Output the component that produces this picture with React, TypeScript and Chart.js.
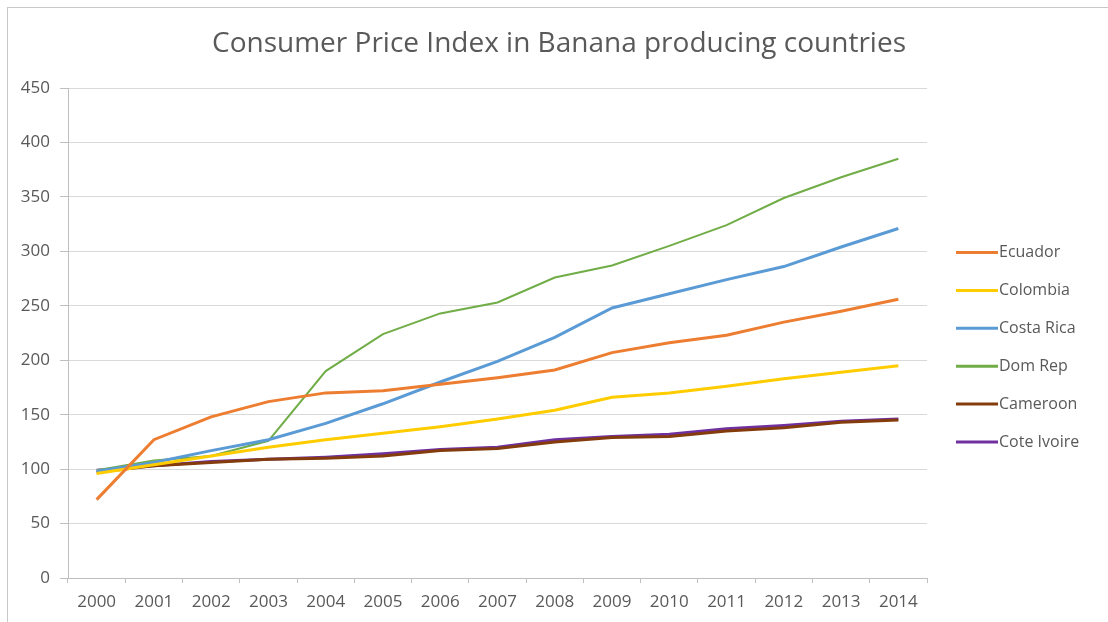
import React, { useEffect, useRef } from "react";
import { Chart, registerables } from "chart.js";

Chart.register(...registerables);

const years = ["2000", "2001", "2002", "2003", "2004", "2005", "2006", "2007", "2008", "2009", "2010", "2011", "2012", "2013", "2014"];
const seriesNames = ["Ecuador", "Colombia", "Costa Rica", "Dom Rep", "Cameroon", "Cote Ivoire"];
const ecuador = [72, 127, 148, 162, 170, 172, 178, 184, 191, 207, 216, 223, 235, 245, 256];
const colombia = [96, 104, 112, 120, 127, 133, 139, 146, 154, 166, 170, 176, 183, 189, 195];
const costaRica = [98, 106, 117, 127, 142, 160, 180, 199, 221, 248, 261, 274, 286, 304, 321];
const domRep = [99, 108, 112, 126, 190, 224, 243, 253, 276, 287, 305, 324, 349, 368, 385];
const cameroon = [97, 103, 106, 109, 110, 112, 117, 119, 125, 129, 130, 135, 138, 143, 145];
const coteIvoire = [99, 103, 107, 109, 111, 114, 118, 120, 127, 130, 132, 137, 140, 144, 146];
const yTickValues = [0, 50, 100, 150, 200, 250, 300, 350, 400, 450];
const titleText = "Consumer Price Index in Banana producing countries";

const seriesValues = [ecuador, colombia, costaRica, domRep, cameroon, coteIvoire];
const seriesColors = ["#ED7D31", "#FFCC00", "#5B9BD5", "#70AD47", "#843C0C", "#7030A0"];
const seriesWidths = [3, 3, 3, 2, 3, 3];

const FONT = "'Open Sans', 'DejaVu Sans', sans-serif";
const TEXT = "#595959";

const legendPlugin = {
  id: "customLegend",
  afterDraw(chart: any) {
    const ctx = chart.ctx;
    ctx.save();
    ctx.fillStyle = TEXT;
    ctx.font = `28px ${FONT}`;
    ctx.textBaseline = "middle";
    ctx.textAlign = "center";
    ctx.fillText(titleText, 559, 44);
    const startY = 252.5;
    const step = 37.9;
    chart.data.datasets.forEach((ds: any, i: number) => {
      const y = startY + i * step;
      ctx.strokeStyle = ds.borderColor;
      ctx.lineWidth = 3;
      ctx.beginPath();
      ctx.moveTo(956, y);
      ctx.lineTo(998, y);
      ctx.stroke();
      ctx.fillStyle = TEXT;
      ctx.font = `16px ${FONT}`;
      ctx.textBaseline = "middle";
      ctx.textAlign = "left";
      ctx.fillText(ds.label, 999, y);
    });
    ctx.restore();
  },
};

export default function App() {
  const ref = useRef<HTMLCanvasElement>(null);
  useEffect(() => {
    if (!ref.current) return;
    const chart = new Chart(ref.current, {
      type: "line",
      data: {
        labels: years,
        datasets: seriesNames.map((name, i) => ({
          label: name,
          data: seriesValues[i],
          borderColor: seriesColors[i],
          backgroundColor: seriesColors[i],
          borderWidth: seriesWidths[i],
          pointRadius: 0,
          tension: 0,
          fill: false,
        })),
      },
      options: {
        responsive: false,
        animation: false,
        layout: { padding: { left: 0, right: 181, top: 88, bottom: 0 } },
        plugins: {
          legend: { display: false },
          tooltip: { enabled: false },
          title: { display: false },
        },
        scales: {
          x: {
            type: "category",
            offset: true,
            grid: {
              offset: true,
              drawOnChartArea: false,
              drawTicks: true,
              tickLength: 5,
              color: "#bfbfbf",
            },
            border: { display: true, color: "#bfbfbf", width: 1 },
            ticks: {
              color: TEXT,
              font: { family: FONT, size: 17 },
              padding: 9,
              maxRotation: 0,
              autoSkip: false,
            },
            afterFit(scale: any) {
              scale.height = 44;
            },
          },
          y: {
            min: 0,
            max: 450,
            afterBuildTicks(scale: any) {
              scale.ticks = yTickValues.map((v) => ({ value: v }));
            },
            grid: {
              color: "#d9d9d9",
              lineWidth: 1,
              drawTicks: true,
              tickLength: 8,
              tickColor: "#bfbfbf",
            },
            border: { display: true, color: "#bfbfbf", width: 1 },
            ticks: {
              color: TEXT,
              font: { family: FONT, size: 17 },
              padding: 10,
            },
            afterFit(scale: any) {
              scale.width = 68;
            },
          },
        },
      },
      plugins: [legendPlugin],
    });
    return () => chart.destroy();
  }, []);

  return (
    <div style={{ position: "absolute", left: 0, top: 0, width: 1108, height: 622, background: "#fff", overflow: "hidden" }}>
      <canvas ref={ref} width={1108} height={622} style={{ position: "absolute", left: 0, top: 0, width: 1108, height: 622 }} />
      <div
        style={{
          position: "absolute",
          left: 7,
          top: 7,
          width: 1101,
          height: 615,
          borderTop: "1px solid #c8c8c8",
          borderLeft: "1px solid #c8c8c8",
          pointerEvents: "none",
          boxSizing: "border-box",
        }}
      />
    </div>
  );
}
